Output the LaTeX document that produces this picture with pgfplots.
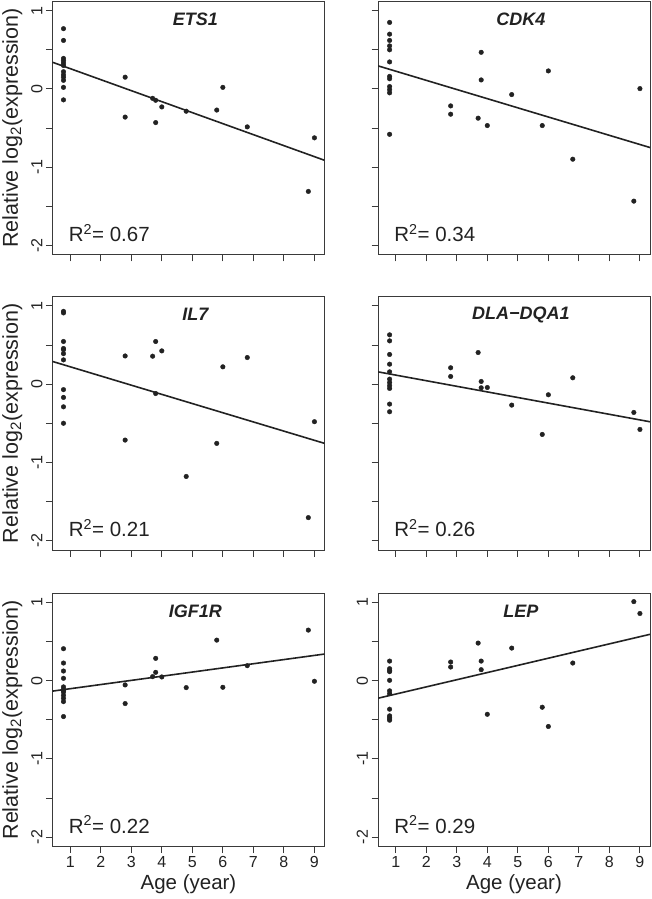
\documentclass[border=0pt]{standalone}
\usepackage{pgfplots}
\pgfplotsset{compat=1.18}
\usepackage{pgfplotstable}
\usepackage{fontspec}
\setmainfont{Liberation Sans}

\pgfplotstableread{
x y
0.78 0.77
0.78 0.62
0.78 0.39
0.78 0.36
0.78 0.33
0.78 0.30
0.78 0.22
0.78 0.18
0.78 0.15
0.78 0.11
0.78 0.02
0.78 -0.14
2.8 0.15
2.8 -0.36
3.7 -0.12
3.8 -0.145
3.8 -0.43
4.0 -0.23
4.8 -0.285
5.8 -0.27
6.0 0.02
6.8 -0.485
8.8 -1.31
9.0 -0.625
}\etsone
\pgfplotstableread{
x y
0.42 0.341
9.33 -0.912
}\etsonefit

\pgfplotstableread{
x y
0.8 0.85
0.8 0.70
0.8 0.62
0.8 0.55
0.8 0.50
0.8 0.345
0.8 0.16
0.8 0.13
0.8 0.03
0.8 -0.01
0.8 -0.05
0.8 -0.58
2.8 -0.217
2.8 -0.323
3.7 -0.374
3.8 0.468
3.8 0.115
4.0 -0.468
4.8 -0.072
5.8 -0.468
6.0 0.23
6.8 -0.898
8.8 -1.434
9.0 0.004
}\cdkfour
\pgfplotstableread{
x y
0.42 0.295
9.33 -0.749
}\cdkfourfit

\pgfplotstableread{
x y
0.78 0.93
0.78 0.91
0.78 0.545
0.78 0.455
0.78 0.44
0.78 0.39
0.78 0.31
0.78 -0.07
0.78 -0.17
0.78 -0.29
0.78 -0.50
2.8 0.36
2.8 -0.715
3.7 0.357
3.8 0.545
3.8 -0.12
4.0 0.425
4.8 -1.18
5.8 -0.757
6.0 0.221
6.8 0.34
8.8 -1.706
9.0 -0.48
}\ilseven
\pgfplotstableread{
x y
0.42 0.290
9.33 -0.757
}\ilsevenfit

\pgfplotstableread{
x y
0.8 0.63
0.8 0.553
0.8 0.379
0.8 0.255
0.8 0.157
0.8 0.064
0.8 0.02
0.8 -0.02
0.8 -0.055
0.8 -0.255
0.8 -0.353
2.8 0.209
2.8 0.098
3.7 0.404
3.8 0.034
3.8 -0.047
4.0 -0.043
4.8 -0.268
5.8 -0.643
6.0 -0.136
6.8 0.081
8.8 -0.362
9.0 -0.579
}\dla
\pgfplotstableread{
x y
0.42 0.157
9.33 -0.481
}\dlafit

\pgfplotstableread{
x y
0.78 0.408
0.78 0.225
0.78 0.123
0.78 0.03
0.78 -0.08
0.78 -0.11
0.78 -0.13
0.78 -0.145
0.78 -0.187
0.78 -0.225
0.78 -0.268
0.78 -0.459
2.8 -0.055
2.8 -0.293
3.7 0.051
3.8 0.285
3.8 0.106
4.0 0.047
4.8 -0.089
5.8 0.518
6.0 -0.085
6.8 0.191
8.8 0.646
9.0 -0.008
}\igf
\pgfplotstableread{
x y
0.42 -0.134
9.33 0.340
}\igffit

\pgfplotstableread{
x y
0.8 0.25
0.8 0.153
0.8 0.13
0.8 0.115
0.8 0.004
0.8 -0.13
0.8 -0.166
0.8 -0.365
0.8 -0.45
0.8 -0.47
0.8 -0.49
0.8 -0.506
2.8 0.238
2.8 0.174
3.7 0.48
3.8 0.25
3.8 0.14
4.0 -0.43
4.8 0.416
5.8 -0.34
6.0 -0.586
6.8 0.225
8.8 1.01
9.0 0.858
}\lep
\pgfplotstableread{
x y
0.42 -0.225
9.33 0.592
}\lepfit

\definecolor{ink}{HTML}{222222}
\definecolor{frame}{HTML}{3A3A3A}

\pgfplotsset{
  panel/.style={
    scale only axis, width=272pt, height=253.5pt, anchor=north west,
    xmin=0.42, xmax=9.33, ymin=-2.12, ymax=1.12,
    axis line style={draw=frame, line width=1pt},
    xtick={1,2,3,4,5,6,7,8,9}, ytick={-2,-1,0,1},
    minor ytick={-1.5,-0.5,0.5},
    tick align=outside, major tick length=6.5pt, minor tick length=6.5pt,
    tick style={draw=frame, line width=1pt},
    xtick pos=left, ytick pos=left,
    xticklabels={}, yticklabels={},
    ticklabel style={font=\fontsize{16}{18}\selectfont, text=ink},
    xlabel style={font=\fontsize{20.5}{24}\selectfont, text=ink},
    ylabel style={font=\fontsize{21.5}{24}\selectfont, text=ink, yshift=2pt},
  },
  ylabs/.style={yticklabels={-2,-1,0,1},
    yticklabel style={rotate=90, anchor=south}},
  xlabs/.style={xticklabels={1,2,3,4,5,6,7,8,9}, xlabel={Age (year)}},
  yl/.style={ylabel={Relative log\textsubscript{2}(expression)}},
  pts/.style={only marks, mark=*, mark size=2.3pt, color=ink},
  fit/.style={no marks, color=ink, line width=1.6pt},
}
\newcommand{\gene}[1]{\node[font=\fontsize{18}{20}\selectfont\bfseries\itshape, text=ink] at (axis cs:5.1,0.89) {#1};}
\newcommand{\rsq}[1]{\node[anchor=west, font=\fontsize{20.5}{24}\selectfont, text=ink, inner sep=0pt] at (axis cs:0.95,-1.84) {R\textsuperscript{2}= #1};}

\begin{document}
\begin{tikzpicture}
\path[use as bounding box] (0pt,0pt) rectangle (651pt,-899pt);

\begin{axis}[panel, ylabs, yl, at={(52.5pt,-1.3pt)}]
\addplot[pts] table {\etsone};
\addplot[fit] table {\etsonefit};
\gene{ETS1}
\rsq{0.67}
\end{axis}

\begin{axis}[panel, at={(378pt,-1.3pt)}]
\addplot[pts] table {\cdkfour};
\addplot[fit] table {\cdkfourfit};
\gene{CDK4}
\rsq{0.34}
\end{axis}

\begin{axis}[panel, ylabs, yl, at={(52.5pt,-296.5pt)}]
\addplot[pts] table {\ilseven};
\addplot[fit] table {\ilsevenfit};
\gene{IL7}
\rsq{0.21}
\end{axis}

\begin{axis}[panel, at={(378pt,-296.5pt)}]
\addplot[pts] table {\dla};
\addplot[fit] table {\dlafit};
\gene{DLA\textminus DQA1}
\rsq{0.26}
\end{axis}

\begin{axis}[panel, ylabs, yl, xlabs, at={(52.5pt,-593pt)}]
\addplot[pts] table {\igf};
\addplot[fit] table {\igffit};
\gene{IGF1R}
\rsq{0.22}
\end{axis}

\begin{axis}[panel, ylabs, xlabs, at={(378pt,-593pt)}]
\addplot[pts] table {\lep};
\addplot[fit] table {\lepfit};
\gene{LEP}
\rsq{0.29}
\end{axis}
\end{tikzpicture}
\end{document}
